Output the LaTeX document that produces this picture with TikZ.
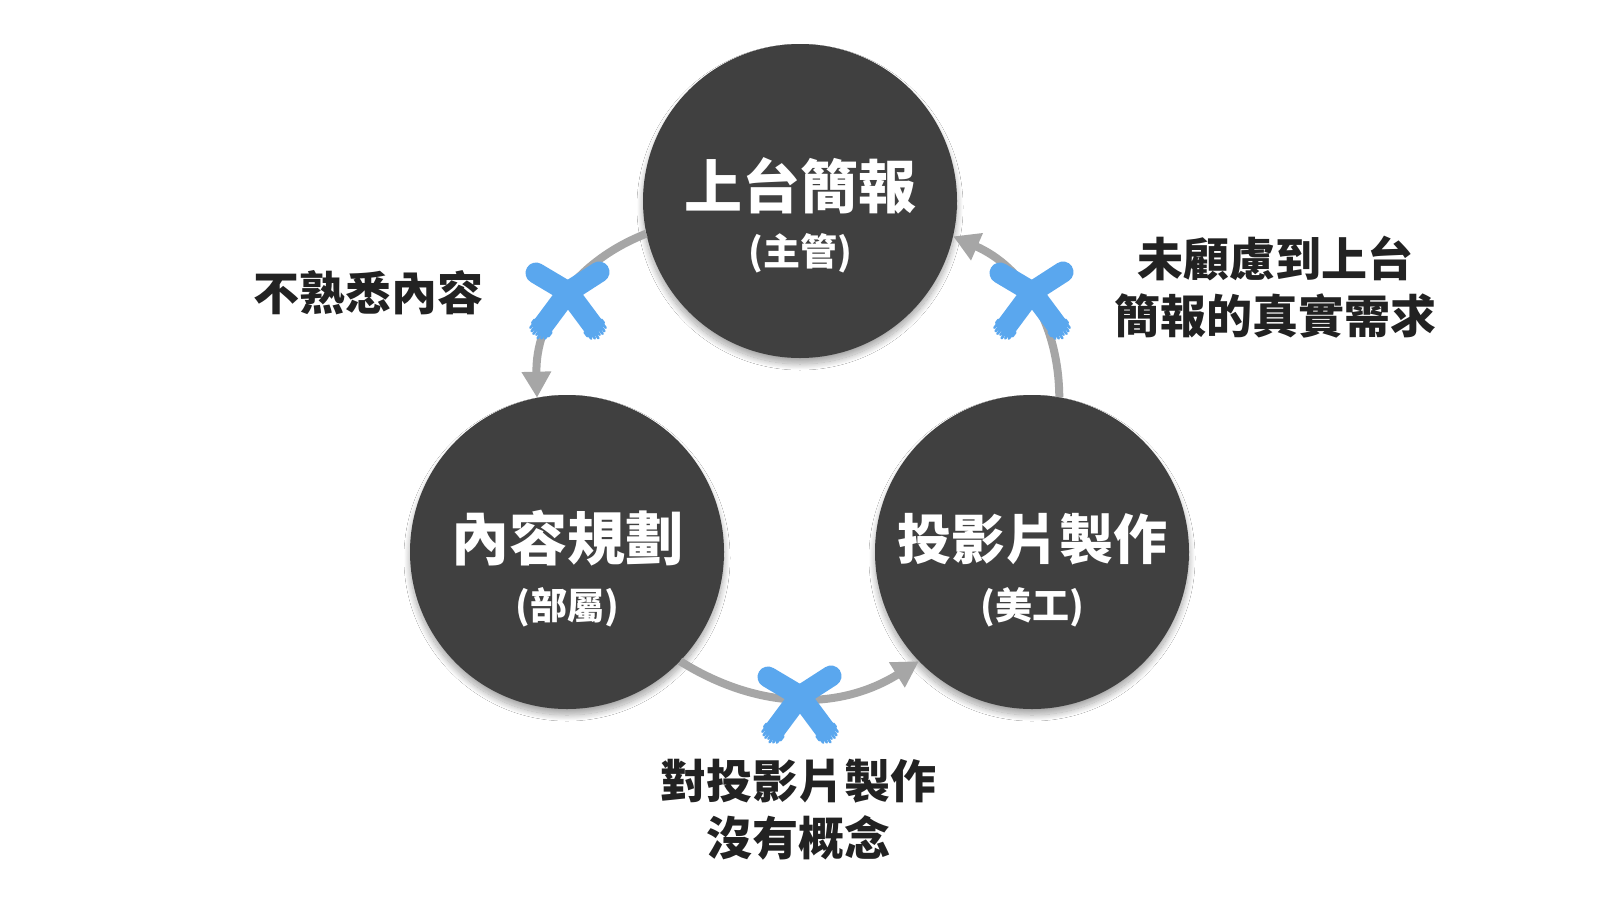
\documentclass[tikz,border=0pt]{standalone}
\usepackage{fontspec}
\setmainfont{Noto Sans CJK TC}
\usetikzlibrary{arrows.meta,shadows.blur,calc}
\definecolor{discc}{HTML}{404040}
\definecolor{connc}{HTML}{A6A6A6}
\definecolor{xblue}{HTML}{5AA7EE}
\definecolor{labelc}{HTML}{222222}
\tikzset{
  disc/.style={circle, fill=discc, minimum size=314pt, inner sep=0pt,
    blur shadow={shadow xshift=0pt, shadow yshift=-6pt, shadow blur radius=6pt, shadow blur steps=20, shadow opacity=35}},
  ttlbig/.style={text=white, inner sep=0pt, font=\fontsize{58}{60}\selectfont\bfseries},
  ttlmid/.style={text=white, inner sep=0pt, font=\fontsize{54}{56}\selectfont\bfseries},
  subttl/.style={text=white, inner sep=0pt, font=\fontsize{37}{40}\selectfont\bfseries},
  lab/.style={text=labelc, inner sep=0pt, align=center, font=\fontsize{46}{57}\selectfont\bfseries},
  conn/.style={draw=connc, line width=8pt, -{Triangle[length=26pt,width=28pt]}},
  xarm/.style={draw=xblue, line width=21pt, line cap=round, line join=round},
  xlow/.style={draw=xblue, line width=21pt, line cap=butt},
  xfray/.style={draw=xblue, line width=2.6pt, line cap=round},
  bluex/.pic={
    \draw[xarm] (-32,-19) -- (0,0);
    \draw[xarm] (31,-20) -- (0,0);
    \draw[xlow] (0,0) -- (26,35);
    \draw[xlow] (0,0) -- (-26,35);
    \foreach \o/\L in {-10.5/4,-9/9,-7.5/6,-6/11,-4.5/8,-3/12,-1.5/7,0/11,1.5/9,3/13,4.5/8,6/11,7.5/7,9/9,10.5/5}{
      \draw[xfray] ($(25,34)+\o*(-0.8,0.6)$) -- ++(0.6*\L,0.8*\L);
      \draw[xfray] ($(-25,34)+\o*(0.8,0.6)$) -- ++(-0.6*\L,0.8*\L);
    }
  }
}
\begin{document}
\begin{tikzpicture}[x=1pt,y=-1pt]
\useasboundingbox (0,0) rectangle (1600,900);
\fill[white] (0,0) rectangle (1600,900);

% circles
\node[disc] (top) at (800,201) {};
\node[disc] (lft) at (567,552) {};
\node[disc] (rgt) at (1032,552) {};

% texts in circles
\node[ttlbig] (topT) at (800,186) {上台簡報};
\node[subttl] (topS) at (800,253) {(主管)};
\node[ttlbig] (lftT) at (567,538) {內容規劃};
\node[subttl] (lftS) at (567,607) {(部屬)};
\node[ttlmid] (rgtT) at (1032,539) {投影片製作};
\node[subttl] (rgtS) at (1032,607) {(美工)};

% connectors
\draw[conn] (top.192) to[bend right=35] (lft.101);
\draw[conn] (lft.-44) to[bend right=32] (rgt.224);
\draw[conn] (rgt.80) to[bend right=33] (top.-13);

% crosses
\pic (xa) at (568,292) {bluex};
\pic (xb) at (1032,292) {bluex};
\pic (xc) at (800,696) {bluex};

% labels
\node[lab] (labA) at (368,293) {不熟悉內容};
\node[lab] (labB) at (1275,287) {未顧慮到上台\\簡報的真實需求};
\node[lab] (labC) at (798,810) {對投影片製作\\沒有概念};
\end{tikzpicture}
\end{document}
